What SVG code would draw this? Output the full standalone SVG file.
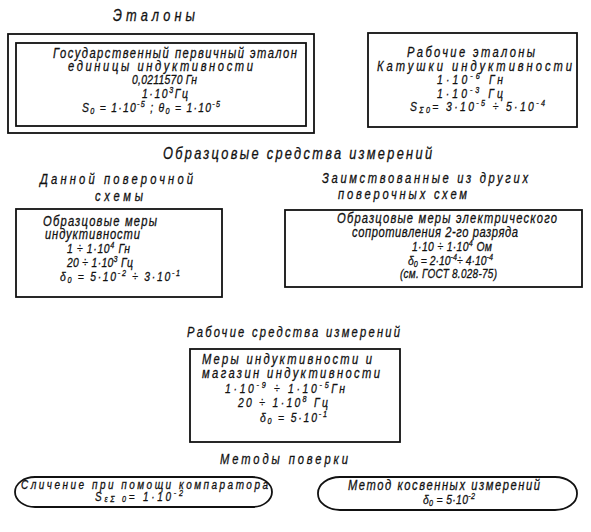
<svg xmlns="http://www.w3.org/2000/svg" width="591" height="532" viewBox="0 0 591 532">
<style>
text{font-family:"Liberation Sans","DejaVu Sans",sans-serif;font-style:italic;font-size:14px;fill:#111;stroke:#111;stroke-width:0.3}
.h{font-size:16px}
.n{font-size:13px}
.sm{font-size:12.5px}
.b{fill:none;stroke:#111;stroke-width:1.8}
.s{font-size:9px}
</style>
<rect width="591" height="532" fill="#fff"/>
<g id="headings">
<text class="h" transform="matrix(0.8 0 0 1 113 0)" y="21" textLength="102.5" lengthAdjust="spacing">Эталоны</text>
<text class="h" transform="matrix(0.8 0 0 1 163 0)" y="159" textLength="336.25" lengthAdjust="spacing">Образцовые средства измерений</text>
<text transform="matrix(0.8 0 0 1 40 0)" y="184" textLength="191.25" lengthAdjust="spacing">Данной поверочной</text>
<text transform="matrix(0.8 0 0 1 95 0)" y="201" textLength="60" lengthAdjust="spacing">схемы</text>
<text transform="matrix(0.8 0 0 1 322 0)" y="183" textLength="257.5" lengthAdjust="spacing">Заимствованные из других</text>
<text transform="matrix(0.8 0 0 1 338 0)" y="199" textLength="161.25" lengthAdjust="spacing">поверочных схем</text>
<text transform="matrix(0.8 0 0 1 187 0)" y="337" textLength="266.25" lengthAdjust="spacing">Рабочие средства измерений</text>
<text transform="matrix(0.8 0 0 1 220 0)" y="464" textLength="160" lengthAdjust="spacing">Методы поверки</text>
</g>
<g id="state-standard">
<rect class="b" x="8" y="34" width="306" height="99"/>
<rect class="b" x="16" y="43" width="290" height="83"/>
<text transform="matrix(0.8 0 0 1 53 0)" y="58" textLength="305" lengthAdjust="spacing">Государственный первичный эталон</text>
<text transform="matrix(0.8 0 0 1 68 0)" y="71" textLength="231.25" lengthAdjust="spacing">единицы индуктивности</text>
<text class="n" transform="matrix(0.8 0 0 1 132 0)" y="84" textLength="81.25" lengthAdjust="spacing">0,0211570 Гн</text>
<text class="n" transform="matrix(0.8 0 0 1 142 0)" y="98" textLength="57.5" lengthAdjust="spacing">1·10<tspan class="s" dy="-5">3</tspan><tspan dy="5">Гц</tspan></text>
<text class="n" transform="matrix(0.8 0 0 1 82 0)" y="112" textLength="172.5" lengthAdjust="spacing">S<tspan class="s" dy="2">0</tspan><tspan dy="-2"> = 1·10</tspan><tspan class="s" dy="-5">-5</tspan><tspan dy="5">  ;  θ</tspan><tspan class="s" dy="2">0</tspan><tspan dy="-2"> = 1·10</tspan><tspan class="s" dy="-5">-5</tspan></text>
</g>
<g id="working-standards">
<rect class="b" x="368" y="33" width="209" height="94"/>
<text transform="matrix(0.8 0 0 1 407 0)" y="57" textLength="160" lengthAdjust="spacing">Рабочие эталоны</text>
<text transform="matrix(0.8 0 0 1 377 0)" y="71" textLength="243.75" lengthAdjust="spacing">Катушки индуктивности</text>
<text class="n" transform="matrix(0.8 0 0 1 437 0)" y="84" textLength="82.5" lengthAdjust="spacing">1·10<tspan class="s" dy="-5">-6</tspan><tspan dy="5"> Гн</tspan></text>
<text class="n" transform="matrix(0.8 0 0 1 437 0)" y="98" textLength="82.5" lengthAdjust="spacing">1·10<tspan class="s" dy="-5">-3</tspan><tspan dy="5"> Гц</tspan></text>
<text class="n" transform="matrix(0.8 0 0 1 410 0)" y="111" textLength="168.75" lengthAdjust="spacing">S<tspan class="s" dy="2">Σ0</tspan><tspan dy="-2">= 3·10</tspan><tspan class="s" dy="-5">-5</tspan><tspan dy="5"> ÷ 5·10</tspan><tspan class="s" dy="-5">-4</tspan></text>
</g>
<g id="reference-measures">
<rect class="b" x="16" y="209" width="206" height="88"/>
<text transform="matrix(0.8 0 0 1 43 0)" y="226" textLength="142.5" lengthAdjust="spacing">Образцовые меры</text>
<text transform="matrix(0.8 0 0 1 45 0)" y="239" textLength="118.75" lengthAdjust="spacing">индуктивности</text>
<text class="n" transform="matrix(0.8 0 0 1 67 0)" y="253" textLength="78.75" lengthAdjust="spacing">1 ÷ 1·10<tspan class="s" dy="-5">4</tspan><tspan dy="5"> Гн</tspan></text>
<text class="n" transform="matrix(0.8 0 0 1 67 0)" y="267" textLength="82.5" lengthAdjust="spacing">20 ÷ 1·10<tspan class="s" dy="-5">3</tspan><tspan dy="5"> Гц</tspan></text>
<text class="n" transform="matrix(0.8 0 0 1 60 0)" y="281" textLength="150" lengthAdjust="spacing">δ<tspan class="s" dy="2">0</tspan><tspan dy="-2"> = 5·10</tspan><tspan class="s" dy="-5">-2</tspan><tspan dy="5"> ÷ 3·10</tspan><tspan class="s" dy="-5">-1</tspan></text>
</g>
<g id="resistance-measures">
<rect class="b" x="285" y="210" width="297" height="77"/>
<text transform="matrix(0.8 0 0 1 337 0)" y="223" textLength="275" lengthAdjust="spacing">Образцовые меры электрического</text>
<text transform="matrix(0.8 0 0 1 352 0)" y="237" textLength="207.5" lengthAdjust="spacing">сопротивления 2-го разряда</text>
<text class="n" transform="matrix(0.8 0 0 1 412 0)" y="251" textLength="100" lengthAdjust="spacing">1·10 ÷ 1·10<tspan class="s" dy="-5">4</tspan><tspan dy="5"> Ом</tspan></text>
<text class="n" transform="matrix(0.8 0 0 1 408 0)" y="265" textLength="106.25" lengthAdjust="spacing">δ<tspan class="s" dy="2">0</tspan><tspan dy="-2"> = 2·10</tspan><tspan class="s" dy="-5">-4</tspan><tspan dy="5">÷ 4·10</tspan><tspan class="s" dy="-5">-4</tspan></text>
<text class="sm" transform="matrix(0.8 0 0 1 400 0)" y="278" textLength="121.25" lengthAdjust="spacing">(см. ГОСТ 8.028-75)</text>
</g>
<g id="working-measures">
<rect class="b" x="190" y="349" width="210" height="93"/>
<text transform="matrix(0.8 0 0 1 202 0)" y="364" textLength="212.5" lengthAdjust="spacing">Меры индуктивности и</text>
<text transform="matrix(0.8 0 0 1 202 0)" y="378" textLength="222.5" lengthAdjust="spacing">магазин индуктивности</text>
<text class="n" transform="matrix(0.8 0 0 1 225 0)" y="393" textLength="150" lengthAdjust="spacing">1·10<tspan class="s" dy="-5">-9</tspan><tspan dy="5"> ÷ 1·10</tspan><tspan class="s" dy="-5">-5</tspan><tspan dy="5">Гн</tspan></text>
<text class="n" transform="matrix(0.8 0 0 1 238 0)" y="407" textLength="112.5" lengthAdjust="spacing">20 ÷ 1·10<tspan class="s" dy="-5">8</tspan><tspan dy="5"> Гц</tspan></text>
<text class="n" transform="matrix(0.8 0 0 1 260 0)" y="422" textLength="83.75" lengthAdjust="spacing">δ<tspan class="s" dy="2">0</tspan><tspan dy="-2"> = 5·10</tspan><tspan class="s" dy="-5">-1</tspan></text>
</g>
<g id="method-comparator">
<rect class="b" x="15" y="477" width="257" height="30" rx="20" ry="15"/>
<text class="sm" transform="matrix(0.8 0 0 1 21 0)" y="489" textLength="308.75" lengthAdjust="spacing">Сличение при помощи компаратора</text>
<text class="sm" transform="matrix(0.8 0 0 1 95 0)" y="501" textLength="110" lengthAdjust="spacing">S<tspan class="s" dy="1">εΣ 0</tspan><tspan dy="-1">= 1·10</tspan><tspan class="s" dy="-5">-2</tspan></text>
</g>
<g id="method-indirect">
<rect class="b" x="318" y="477" width="259" height="33" rx="22" ry="16"/>
<text transform="matrix(0.8 0 0 1 348 0)" y="490" textLength="240" lengthAdjust="spacing">Метод косвенных измерений</text>
<text class="n" transform="matrix(0.8 0 0 1 423 0)" y="504" textLength="65" lengthAdjust="spacing">δ<tspan class="s" dy="2">0</tspan><tspan dy="-2"> = 5·10</tspan><tspan class="s" dy="-5">-2</tspan></text>
</g>
<g id="connectors"/>
</svg>
